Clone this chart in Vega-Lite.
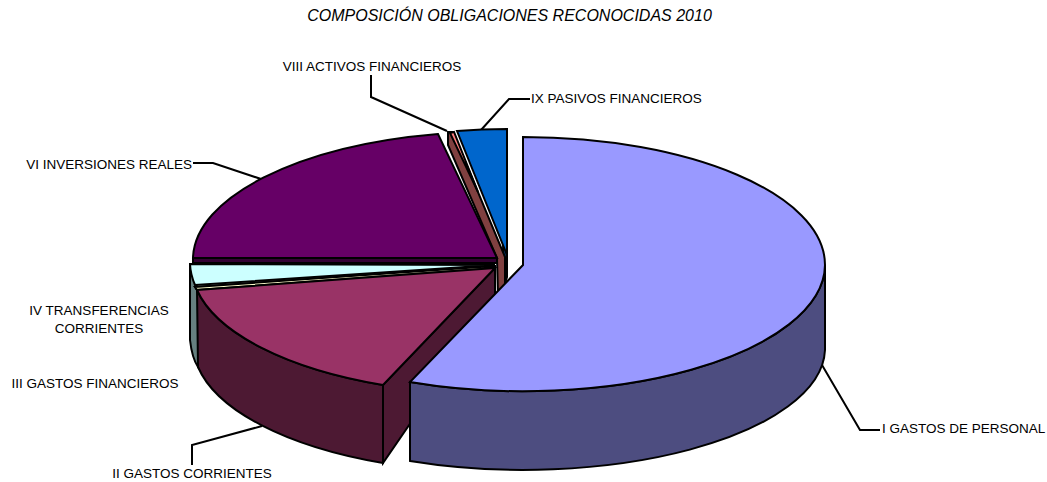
{"$schema":"https://vega.github.io/schema/vega-lite/v6.json","width":1047,"height":482,"padding":0,"autosize":"none","background":"white","view":{"stroke":null},
"title":{"text":"COMPOSICIÓN OBLIGACIONES RECONOCIDAS 2010","font":"Liberation Sans","fontSize":16,"fontStyle":"italic","fontWeight":"normal","color":"black","anchor":"middle","dx":-14,"dy":24,"offset":0},
"datasets":{"slices":[
{"slice":"VI","label":"VI INVERSIONES REALES","share":21.5},
{"slice":"IX","label":"IX PASIVOS FINANCIEROS","share":3.5},
{"slice":"VIII","label":"VIII ACTIVOS FINANCIEROS","share":0.7},
{"slice":"IV","label":"IV TRANSFERENCIAS\nCORRIENTES","share":2.5},
{"slice":"III","label":"III GASTOS FINANCIEROS","share":0.3},
{"slice":"II","label":"II GASTOS CORRIENTES","share":15.5},
{"slice":"I","label":"I GASTOS DE PERSONAL","share":56}]},
"data":{"name":"slices"},
"config":{"text":{"font":"Liberation Sans","fontSize":13.5,"lineBreak":"\n","lineHeight":18,"color":"black"}},
"resolve":{"scale":{"shape":"independent","color":"independent"}},
"layer":[
{"transform":[{"filter":"indexof(['VI','VIII','IX','II','I'],datum.slice)>=0"}],
"mark":{"type":"point","filled":false,"size":4,"stroke":"black","strokeWidth":2,"opacity":1},
"encoding":{"x":{"value":0},"y":{"value":0},
"shape":{"field":"slice","type":"nominal","legend":null,"scale":{"domain":["VI","VIII","IX","II","I"],"range":[
"M193 163 L213 163 L261 179",
"M447 131 L371 97 L371 75",
"M481 130 L509 99 L530 99",
"M262 426 L192 445 L192 465",
"M822 365 L860 430 L880 430"]}}}},
{"mark":{"type":"point","filled":true,"size":4,"stroke":"black","strokeWidth":2,"opacity":1},
"encoding":{"x":{"value":0},"y":{"value":0},
"color":{"field":"slice","type":"nominal","legend":null,"scale":{"domain":["VI","IX","VIII","IV","III","II","I"],"range":["#330033","#003366","#804040","#668080","#808066","#4d1933","#4d4d80"]}},
"shape":{"field":"slice","type":"nominal","legend":null,"scale":{"domain":["VI","IX","VIII","IV","III","II","I"],"range":[
"M193 258 L497 258 L497 263 L193 263 Z",
"M507 129 L507 277 L503 290 L503 250 Z",
"M448 132 L453 132 L505 257 L505 285 L498 296 L497 258 L448 145 Z",
"M190 264 L190 340 Q192 358 198 367 L198 290 Z",
"M195 287 L495 266 L495 269 L197 290 Z",
"M197 290 A302 128 0 0 0 383 385 L383 463 A302 128 0 0 1 198 367 Z M383 385 L495 268 L495 300 L383 463 Z",
"M825 265 A302 127 0 0 1 410 382 L410 461 A302 122 0 0 0 825 350 Z"]}}}},
{"mark":{"type":"point","filled":true,"size":4,"stroke":"black","strokeWidth":2,"opacity":1},
"encoding":{"x":{"value":0},"y":{"value":0},"tooltip":{"field":"share","type":"quantitative"},
"color":{"field":"slice","type":"nominal","legend":null,"scale":{"domain":["VI","IX","VIII","IV","III","II","I"],"range":["#660066","#0066cc","#ff8080","#ccffff","#ffffcc","#993366","#9999ff"]}},
"shape":{"field":"slice","type":"nominal","legend":null,"scale":{"domain":["VI","IX","VIII","IV","III","II","I"],"range":[
"M497 258 L193 258 A304 128 0 0 1 438 134 Z",
"M507 255 L457 131 A302 128 0 0 1 507 129 Z",
"M450 133 L454 132 L478 192 Z",
"M495 265 L190 264 A302 128 0 0 0 195 285 Z",
"M495 266 L195 287 L197 290 L495 268 Z",
"M495 268 L197 290 A302 128 0 0 0 383 385 Z",
"M523 265 L523 137 A302 128 0 0 1 825 265 A302 127 0 0 1 410 382 Z"]}}}},
{"transform":[{"filter":"datum.slice==='I'"}],"mark":{"type":"text","align":"left","baseline":"middle"},"encoding":{"x":{"value":882},"y":{"value":429},"text":{"field":"label"}}},
{"transform":[{"filter":"datum.slice==='II'"}],"mark":{"type":"text","align":"center","baseline":"middle"},"encoding":{"x":{"value":192},"y":{"value":474},"text":{"field":"label"}}},
{"transform":[{"filter":"datum.slice==='III'"}],"mark":{"type":"text","align":"center","baseline":"middle"},"encoding":{"x":{"value":95},"y":{"value":384},"text":{"field":"label"}}},
{"transform":[{"filter":"datum.slice==='IV'"}],"mark":{"type":"text","align":"center","baseline":"middle"},"encoding":{"x":{"value":99},"y":{"value":311},"text":{"field":"label"}}},
{"transform":[{"filter":"datum.slice==='VI'"}],"mark":{"type":"text","align":"right","baseline":"middle"},"encoding":{"x":{"value":192},"y":{"value":165},"text":{"field":"label"}}},
{"transform":[{"filter":"datum.slice==='VIII'"}],"mark":{"type":"text","align":"center","baseline":"middle"},"encoding":{"x":{"value":372},"y":{"value":67},"text":{"field":"label"}}},
{"transform":[{"filter":"datum.slice==='IX'"}],"mark":{"type":"text","align":"left","baseline":"middle"},"encoding":{"x":{"value":531},"y":{"value":99},"text":{"field":"label"}}}
]}
